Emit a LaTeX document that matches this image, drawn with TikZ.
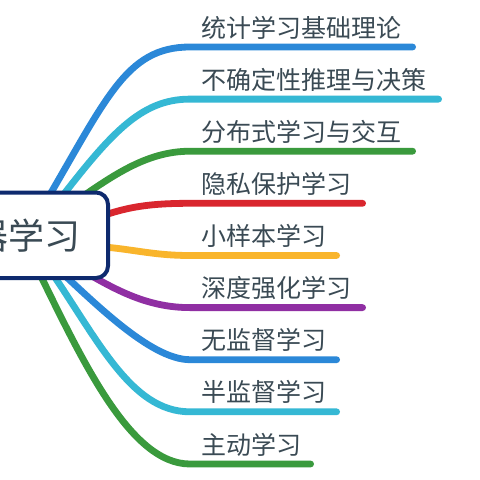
\documentclass[tikz,border=0pt]{standalone}
\usepackage{fontspec}
\newfontfamily\cjk{Noto Sans CJK SC}
\definecolor{cblue}{HTML}{2B88D8}
\definecolor{ccyan}{HTML}{35B8D4}
\definecolor{cgreen}{HTML}{3A9A3D}
\definecolor{cred}{HTML}{D9262E}
\definecolor{cyellow}{HTML}{F9B52C}
\definecolor{cpurple}{HTML}{902FA3}
\definecolor{cnavy}{HTML}{0E2A6E}
\definecolor{ctext}{HTML}{3A4A54}
\begin{document}
\begin{tikzpicture}[x=1pt,y=-1pt,
  branch/.style={line width=6.8pt, line cap=round},
  lbl/.style={font=\cjk\fontsize{25}{30}\selectfont, text=ctext, anchor=west, inner sep=0pt},
  rootbox/.style={draw=cnavy, fill=white, line width=4pt, rounded corners=12pt,
    minimum width=198pt, minimum height=85.5pt, inner sep=0pt,
    font=\cjk\fontsize{36}{40}\selectfont, text=ctext}]
\useasboundingbox (0,0) rectangle (480,480);
\clip (0,0) rectangle (480,480);
\fill[white] (0,0) rectangle (480,480);

% start points (hidden inside the central box)
\coordinate (s1) at (40,211.5);
\coordinate (s2) at (54.8,205.8);
\coordinate (s3) at (75,201.5);
\coordinate (s4) at (85,222);
\coordinate (s5) at (90,246);
\coordinate (s6) at (85,272);
\coordinate (s7) at (55,266.5);
\coordinate (s8) at (45.6,263.6);
\coordinate (s9) at (34,262);
% start of underlines
\coordinate (e1) at (190,47);
\coordinate (e2) at (190,99.1);
\coordinate (e3) at (190,151.2);
\coordinate (e4) at (190,203.3);
\coordinate (e5) at (190,255.5);
\coordinate (e6) at (190,307.6);
\coordinate (e7) at (190,359.7);
\coordinate (e8) at (190,411.8);
\coordinate (e9) at (190,464);
% end of underlines
\coordinate (f1) at (412.6,47);
\coordinate (f2) at (438.6,99.1);
\coordinate (f3) at (412.6,151.2);
\coordinate (f4) at (362.6,203.3);
\coordinate (f5) at (336.6,255.5);
\coordinate (f6) at (362.6,307.6);
\coordinate (f7) at (336.6,359.7);
\coordinate (f8) at (336.6,411.8);
\coordinate (f9) at (310.6,464);

\draw[branch, cblue]   (s1) .. controls (106.3,99.7) and (125,47) .. (e1) -- (f1);
\draw[branch, ccyan]   (s2) .. controls (109.7,134.7) and (140,99.1) .. (e2) -- (f2);
\draw[branch, cgreen]  (s3) .. controls (110,178) and (145,151.2) .. (e3) -- (f3);
\draw[branch, cred]    (s4) .. controls (120,209) and (140,203.3) .. (e4) -- (f4);
\draw[branch, cyellow] (s5) .. controls (130,248) and (150,255.5) .. (e5) -- (f5);
\draw[branch, cpurple] (s6) .. controls (119,292) and (150,307.6) .. (e6) -- (f6);
\draw[branch, cblue]   (s7) .. controls (92,300) and (150,359.7) .. (e7) -- (f7);
\draw[branch, ccyan]   (s8) .. controls (97,337.4) and (130,411.8) .. (e8) -- (f8);
\draw[branch, cgreen]  (s9) .. controls (82.4,361) and (130,464) .. (e9) -- (f9);

\node[rootbox] (root) at (9,235.25) {机器学习};

\node[lbl] (t1) at (201,27.5) {统计学习基础理论};
\node[lbl] (t2) at (201,79.6) {不确定性推理与决策};
\node[lbl] (t3) at (201,131.7) {分布式学习与交互};
\node[lbl] (t4) at (201,183.8) {隐私保护学习};
\node[lbl] (t5) at (201,236) {小样本学习};
\node[lbl] (t6) at (201,288.1) {深度强化学习};
\node[lbl] (t7) at (201,340.2) {无监督学习};
\node[lbl] (t8) at (201,392.3) {半监督学习};
\node[lbl] (t9) at (201,444.5) {主动学习};
\end{tikzpicture}
\end{document}
